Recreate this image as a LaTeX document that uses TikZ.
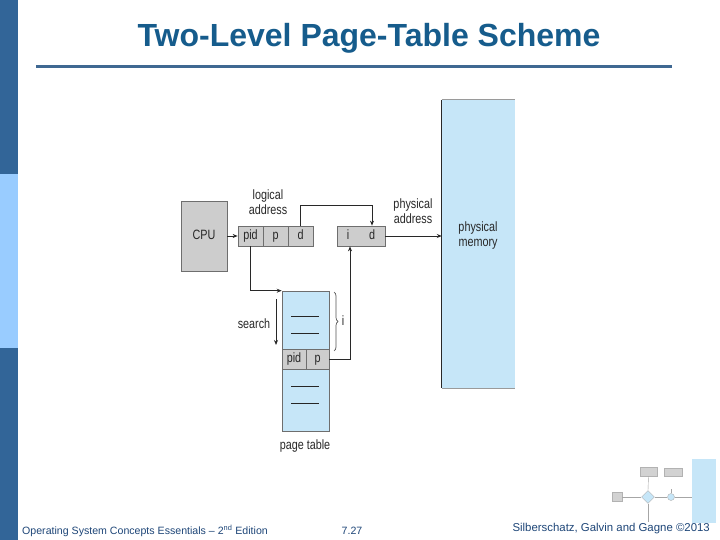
\documentclass[tikz,border=0pt]{standalone}
\usepackage{fontspec}
\setmainfont{Liberation Sans}
\newfontfamily\dfont[FakeStretch=0.8]{Liberation Sans}
\usetikzlibrary{arrows.meta,decorations.pathreplacing,shapes.geometric}
\definecolor{sidedark}{RGB}{50,101,152}
\definecolor{sidelight}{RGB}{153,204,255}
\definecolor{titleblue}{RGB}{22,92,140}
\definecolor{rulecol}{RGB}{63,104,146}
\definecolor{footblue}{RGB}{30,70,120}
\definecolor{memblue}{RGB}{198,230,248}
\definecolor{boxgray}{RGB}{205,205,205}
\definecolor{edgegray}{RGB}{110,110,110}
\definecolor{inkcol}{RGB}{40,40,40}
\tikzset{
  cell/.style={draw=edgegray,fill=boxgray,line width=0.7pt,minimum height=20pt,inner sep=0pt,text height=9pt,text depth=2.5pt,font=\dfont\fontsize{13.5}{15}\selectfont,text=inkcol},
  lbl/.style={font=\dfont\fontsize{13.5}{15}\selectfont,text=inkcol,align=center,inner sep=0pt},
  arr/.style={draw=inkcol,line width=1pt,-{Stealth[length=5pt,width=4pt]}},
  rowline/.style={draw=black!85,line width=0.8pt},
  foot/.style={text=footblue,inner sep=0pt}
}
\begin{document}
\begin{tikzpicture}[x=1pt,y=-1pt]
\useasboundingbox (0,0) rectangle (720,540);
\fill[white] (0,0) rectangle (720,540);
% sidebar
\fill[sidedark] (0,0) rectangle (18,174);
\fill[sidelight] (0,174) rectangle (18,348);
\fill[sidedark] (0,348) rectangle (18,540);
% title and rule
\node[text=titleblue,font=\bfseries\fontsize{32}{36}\selectfont,inner sep=0pt] (title) at (369,38.5) {Two-Level Page-Table Scheme};
\draw[rulecol,line width=3pt] (36,67) -- (672,67);
% CPU
\node[cell,minimum width=46pt,minimum height=70pt] (cpu) at (204,236) {CPU};
% logical address
\node[cell,minimum width=25pt] (pidc) at (250.5,236) {pid};
\node[cell,minimum width=25pt] (pc) at (275.5,236) {p};
\node[cell,minimum width=25pt] (dc) at (300.5,236) {d};
\node[lbl] (lalbl) at (268,202) {logical\\address};
% i d box
\node[cell,minimum width=48pt] (idbox) at (361,236) {};
\node[lbl,text height=9pt,text depth=2.5pt] (itxt) at (348,236) {i};
\node[lbl,text height=9pt,text depth=2.5pt] (dtxt) at (372,236) {d};
\node[lbl] (palbl) at (413,211) {physical\\address};
% physical memory
\node[fill=memblue,minimum width=73pt,minimum height=288pt,inner sep=0pt] (mem) at (478.5,244) {};
\draw[inkcol,line width=0.8pt] (mem.north west) -- (mem.south west);
\draw[edgegray!70,line width=0.6pt] (mem.north west) -- (mem.north east);
\draw[edgegray!70,line width=0.6pt] (mem.south west) -- (mem.south east);
\node[lbl] (memlbl) at (478,236) {physical\\memory};
% page table
\node[draw=edgegray,fill=memblue,line width=0.6pt,minimum width=47pt,minimum height=140pt,inner sep=0pt] (pt) at (305.5,361) {};
\node[cell,minimum width=24pt] (ptpid) at (294,359) {pid};
\node[cell,minimum width=23pt] (ptp) at (317.5,359) {p};
\draw[rowline] (291,316) -- (319,316);
\draw[rowline] (291,333) -- (319,333);
\draw[rowline] (291,386) -- (319,386);
\draw[rowline] (291,403) -- (319,403);
\node[lbl] (ptlbl) at (305,446) {page table};
% search
\coordinate (s1) at (276,299);
\coordinate (s2) at (276,345);
\draw[arr] (s1) -- (s2);
\node[lbl] (srch) at (254,324) {search};
% brace
\coordinate (b1) at (334,292);
\coordinate (b2) at (334,351);
\draw[inkcol!80,line width=0.7pt,decorate,decoration={brace,amplitude=4pt}] (b1) -- (b2);
\node[lbl] (ilbl) at (343,321) {i};
% connectors
\draw[arr] (cpu.east) -- (pidc.west);
\coordinate (dtop) at (372,206);
\draw[arr] (dc.north) |- (dtop) -- (idbox.north -| dtop);
\draw[arr] (idbox.east) -- (idbox.east -| mem.west);
\draw[arr] (pidc.south) |- (pt.north west);
\coordinate (iup) at (350,300);
\draw[arr] (ptp.east) -| (idbox.south -| iup);
% thumbnail
\begin{scope}[line width=0.4pt]
\fill[memblue] (692,459) rectangle (716,523);
\node[draw=gray!60,fill=gray!35,minimum width=10pt,minimum height=9pt,inner sep=0pt] (tcpu) at (617,497) {};
\node[draw=gray!60,fill=gray!35,minimum width=17pt,minimum height=9pt,inner sep=0pt] (tb1) at (648.5,471.5) {};
\node[draw=gray!60,fill=gray!35,minimum width=18pt,minimum height=8pt,inner sep=0pt] (tb2) at (673,472) {};
\node[diamond,draw=gray!60,fill=memblue,minimum width=13pt,minimum height=13pt,inner sep=0pt] (tdia) at (648,497) {};
\node[circle,draw=gray!60,fill=memblue,minimum size=7pt,inner sep=0pt] (tcir) at (671,497) {};
\coordinate (tbot) at (648,522);
\coordinate (tcup) at (671,489);
\draw[gray!70] (tcpu.east) -- (tdia.west);
\draw[gray!70] (tdia.east) -- (tcir.west);
\draw[gray!70] (tcir.east) -- (692,497);
\draw[gray!70] (tb1.south) -- (tdia.north);
\draw[gray!70] (tdia.south) -- (tbot);
\draw[gray!70] (tcir.north) -- (tcup);
\end{scope}
% footer
\node[foot,anchor=west,font=\fontsize{10.6}{12}\selectfont] (f1) at (22,531) {Operating System Concepts Essentials -- 2\textsuperscript{nd} Edition};
\node[foot,font=\fontsize{10.6}{12}\selectfont] (f2) at (352,531) {7.27};
\node[foot,anchor=east,font=\fontsize{11.4}{13}\selectfont] (f3) at (710,529) {Silberschatz, Galvin and Gagne \textcopyright 2013};
\end{tikzpicture}
\end{document}
